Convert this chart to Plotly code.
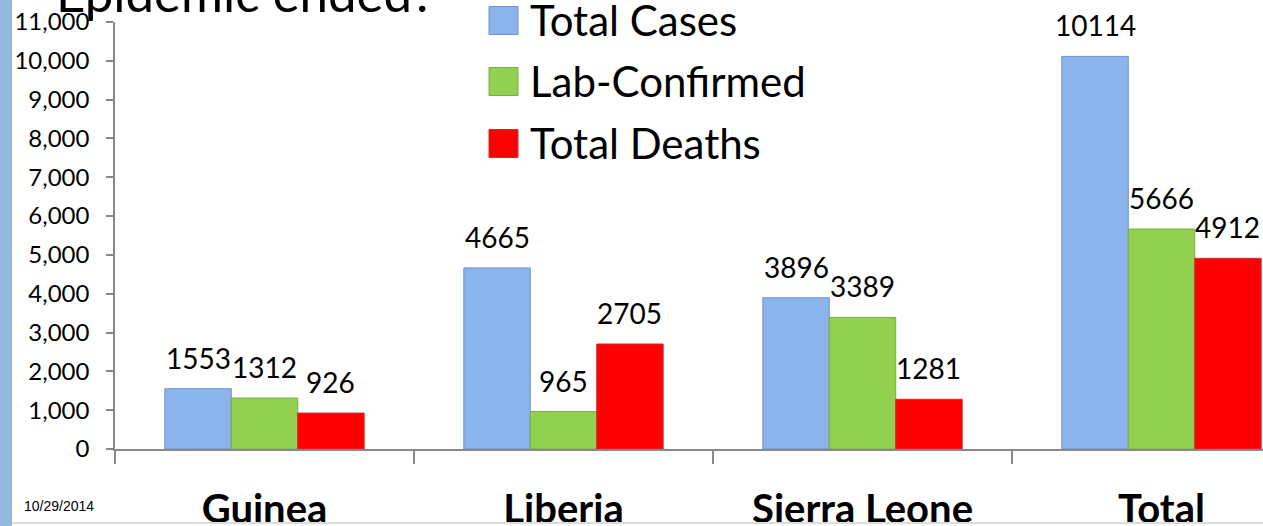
import plotly.graph_objects as go

# ---------------- data ----------------
categories = ["Guinea", "Liberia", "Sierra Leone", "Total"]
series_names = ["Total Cases", "Lab-Confirmed", "Total Deaths"]
total_cases = [1553, 4665, 3896, 10114]
lab_confirmed = [1312, 965, 3389, 5666]
total_deaths = [926, 2705, 1281, 4912]
series_values = [total_cases, lab_confirmed, total_deaths]
title_text = "Epidemic ended?"
date_text = "10/29/2014"

# ---------------- style ----------------
colors = ["#8CB4EC", "#92D050", "#FF0000"]
outline = ["#6E93C8", "#7AAE45", "#C8302C"]
W, H = 1263, 526
ML, MR, MT, MB = 115, 0, 22, 77
PW, PH = W - ML - MR, H - MT - MB
FONT = "Lato"
BARGAP = 1 / 3
bar_w = (1 - BARGAP) / len(series_names)


def px(xp):
    return (xp - ML) / PW


def py(yp):
    return (H - MB - yp) / PH


fig = go.Figure()
for name, vals, c, oc in zip(series_names, series_values, colors, outline):
    fig.add_trace(go.Bar(
        x=categories, y=vals, name=name,
        marker=dict(color=c, line=dict(color=oc, width=1)),
        hoverinfo="x+y+name",
    ))

annotations = []
# data labels above each bar
for j, vals in enumerate(series_values):
    off = (j - (len(series_values) - 1) / 2) * bar_w
    for i, v in enumerate(vals):
        annotations.append(dict(
            x=i + off, y=v, xref="x", yref="y", text=str(v),
            showarrow=False, yanchor="middle", yshift=31,
            font=dict(family=FONT, size=28, color="black"),
        ))

shapes = []
# manual legend with large swatches
row_y = [20.5, 81.5, 143.5]
for name, c, oc, ry in zip(series_names, colors, outline, row_y):
    shapes.append(dict(
        type="rect", xref="paper", yref="paper",
        x0=px(489), x1=px(518), y0=py(ry - 14), y1=py(ry + 14),
        fillcolor=c, line=dict(color=oc, width=1),
    ))
    annotations.append(dict(
        x=px(528), y=py(ry - 1), xref="paper", yref="paper", text=name,
        showarrow=False, xanchor="left", yanchor="middle",
        font=dict(family=FONT, size=42, color="black"),
    ))

# left decorative strip
shapes.append(dict(
    type="rect", xref="paper", yref="paper",
    x0=px(0), x1=px(12), y0=py(0), y1=py(H),
    fillcolor="#95B7DE", line=dict(width=0), layer="below",
))
# bottom faint line
shapes.append(dict(
    type="line", xref="paper", yref="paper",
    x0=px(12), x1=px(W), y0=py(523), y1=py(523),
    line=dict(color="#DDDDDD", width=2),
))

# title (cut off at top)
annotations.append(dict(
    x=px(54), y=py(-7), xref="paper", yref="paper", text=title_text,
    showarrow=False, xanchor="left", yanchor="middle",
    font=dict(family=FONT, size=51, color="black"),
))
# date
annotations.append(dict(
    x=px(59), y=py(506), xref="paper", yref="paper", text=date_text,
    showarrow=False, xanchor="center", yanchor="middle",
    font=dict(family="Liberation Sans", size=14, color="black"),
))

fig.update_layout(
    width=W, height=H,
    margin=dict(l=ML, r=MR, t=MT, b=MB, pad=0, autoexpand=False),
    paper_bgcolor="white", plot_bgcolor="white",
    barmode="group", bargap=BARGAP, bargroupgap=0,
    showlegend=False,
    annotations=annotations, shapes=shapes,
    font=dict(family=FONT, color="black"),
)
fig.update_xaxes(
    type="category", range=[-0.5, -0.5 + PW / 299],
    showline=True, linecolor="#888888", linewidth=1.5,
    ticks="outside", tickson="boundaries", ticklen=13, tickcolor="#888888",
    tickwidth=1.5, showgrid=False, zeroline=False, automargin=False,
    tickfont=dict(family=FONT, size=40, color="black", weight="bold"),
    ticklabelstandoff=24,
)
fig.update_yaxes(
    range=[0, 11000], dtick=1000, tickformat=",d",
    showline=True, linecolor="#888888", linewidth=1.5,
    ticks="outside", ticklen=7, tickcolor="#888888", tickwidth=1.5,
    showgrid=False, zeroline=False, automargin=False,
    tickfont=dict(family=FONT, size=24, color="black"),
    ticklabelstandoff=12,
)

fig.write_html(
    "out.html",
    config={"displayModeBar": False},
    post_script="document.body.style.margin='0';document.body.style.overflow='hidden';",
)
